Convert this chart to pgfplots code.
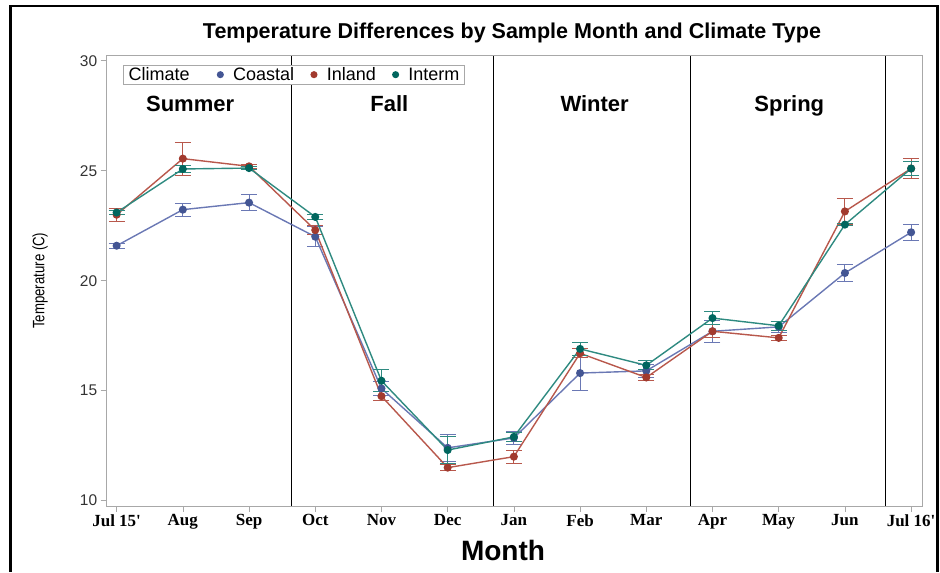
\documentclass[border=0pt]{standalone}
\usepackage{pgfplots}
\pgfplotsset{compat=1.18}
\usepackage{fontspec}
\setmainfont{Liberation Sans}
\newfontfamily\tnr{Liberation Serif}
\definecolor{cCoast}{HTML}{445694}
\definecolor{cInland}{HTML}{A23A2E}
\definecolor{cInterm}{HTML}{01665E}
\definecolor{lCoast}{HTML}{6A78B4}
\definecolor{lInland}{HTML}{B8584C}
\definecolor{lInterm}{HTML}{2E8A80}
\definecolor{axgray}{HTML}{A8A8A8}
\begin{document}
\begin{tikzpicture}
\path (-106.7pt,-65.3pt) rectangle (833.3pt,505.7pt);
\draw[line width=2.6pt] (-96pt,-66pt) -- (-96pt,499.5pt) -- (830.5pt,499.5pt) -- (830.5pt,-66pt);
\begin{axis}[
  at={(0pt,0pt)}, anchor=south west,
  scale only axis, width=815pt, height=450pt,
  xmin=-0.15, xmax=12.16, ymin=9.77, ymax=30.23,
  axis line style={axgray},
  tick align=outside, tick style={axgray, line width=0.6pt}, major tick length=6pt,
  xtick={0,...,12},
  xticklabels={Jul 15',Aug,Sep,Oct,Nov,Dec,Jan,Feb,Mar,Apr,May,Jun,Jul 16'},
  xticklabel style={font=\tnr\bfseries\fontsize{17}{19}\selectfont, text=black, yshift=1pt},
  ytick={10,15,20,25,30},
  yticklabel style={font=\fontsize{15.5}{17}\selectfont, text=black!80},
  /pgf/number format/assume math mode=true,
  xtick pos=bottom, ytick pos=left,
  clip=false,
  legend columns=4,
  legend style={at={(0.0204,0.98)}, anchor=north west, draw=axgray, font=\fontsize{18}{19}\selectfont,
    inner xsep=3pt, inner ysep=0.5pt, row sep=0pt},
  legend cell align=left,
  legend image code/.code={\draw[#1, mark size=2.8pt] plot coordinates {(0.25cm,0cm)};},
]
\addlegendimage{empty legend}
\addlegendentry{Climate\hspace{26pt}\mbox{}}

\addplot[forget plot, black, line width=0.9pt] coordinates {(2.634,9.77) (2.634,30.23)};
\addplot[forget plot, black, line width=0.9pt] coordinates {(5.687,9.77) (5.687,30.23)};
\addplot[forget plot, black, line width=0.9pt] coordinates {(8.664,9.77) (8.664,30.23)};
\addplot[forget plot, black, line width=0.9pt] coordinates {(11.61,9.77) (11.61,30.23)};

\addplot[lCoast, line width=1.4pt, mark=*, mark size=3.3pt, mark options={cCoast, fill=cCoast},
  error bars/.cd, y dir=both, y explicit, error bar style={lCoast, line width=1pt},
  error mark options={rotate=90, mark size=8pt, line width=1pt, lCoast}]
coordinates {
(0,21.59) +- (0,0.12)
(1,23.23) +- (0,0.3)
(2,23.55) +- (0,0.35)
(3,22.0) +- (0,0.45)
(4,15.1) +- (0,0.3)
(5,12.4) +- (0,0.6)
(6,12.85) +- (0,0.3)
(7,15.8) +- (0,0.8)
(8,15.9) +- (0,0.3)
(9,17.7) +- (0,0.5)
(10,17.9) +- (0,0.25)
(11,20.35) +- (0,0.4)
(12,22.2) +- (0,0.35)
};
\addlegendentry{\mbox{}\hspace{8pt}Coastal\hspace{15pt}\mbox{}}

\addplot[lInland, line width=1.4pt, mark=*, mark size=3.3pt, mark options={cInland, fill=cInland},
  error bars/.cd, y dir=both, y explicit, error bar style={lInland, line width=1pt},
  error mark options={rotate=90, mark size=8pt, line width=1pt, lInland}]
coordinates {
(0,23.0) +- (0,0.3)
(1,25.55) +- (0,0.75)
(2,25.2) +- (0,0.1)
(3,22.3) +- (0,0.2)
(4,14.75) +- (0,0.2)
(5,11.5) +- (0,0.15)
(6,12.0) +- (0,0.3)
(7,16.7) +- (0,0.2)
(8,15.6) +- (0,0.15)
(9,17.7) +- (0,0.3)
(10,17.4) +- (0,0.1)
(11,23.15) +- (0,0.6)
(12,25.1) +- (0,0.45)
};
\addlegendentry{\mbox{}\hspace{8pt}Inland\hspace{15pt}\mbox{}}

\addplot[lInterm, line width=1.4pt, mark=*, mark size=3.3pt, mark options={cInterm, fill=cInterm},
  error bars/.cd, y dir=both, y explicit, error bar style={lInterm, line width=1pt},
  error mark options={rotate=90, mark size=8pt, line width=1pt, lInterm}]
coordinates {
(0,23.1) +- (0,0.1)
(1,25.08) +- (0,0.15)
(2,25.12) +- (0,0.05)
(3,22.9) +- (0,0.1)
(4,15.45) +- (0,0.5)
(5,12.3) +- (0,0.6)
(6,12.9) +- (0,0.2)
(7,16.9) +- (0,0.3)
(8,16.15) +- (0,0.2)
(9,18.3) +- (0,0.3)
(10,17.95) +- (0,0.2)
(11,22.55) +- (0,0.05)
(12,25.1) +- (0,0.3)
};
\addlegendentry{\mbox{}\hspace{8pt}Interm}

\node[anchor=base, font=\bfseries\fontsize{22}{26}\selectfont] at (axis cs:1.11,27.68) {Summer};
\node[anchor=base, font=\bfseries\fontsize{22}{26}\selectfont] at (axis cs:4.12,27.68) {Fall};
\node[anchor=base, font=\bfseries\fontsize{22}{26}\selectfont] at (axis cs:7.22,27.68) {Winter};
\node[anchor=base, font=\bfseries\fontsize{22}{26}\selectfont] at (axis cs:10.16,27.68) {Spring};
\end{axis}
\node[font=\bfseries\fontsize{21.5}{25}\selectfont] at (405.3pt,472.7pt) {Temperature Differences by Sample Month and Climate Type};
\node[font=\bfseries\fontsize{28}{32}\selectfont] at (396.3pt,-44.3pt) {Month};
\node[font=\fontsize{16.5}{19}\selectfont, rotate=90, xscale=0.8] at (-66.7pt,225pt) {Temperature (C)};
\end{tikzpicture}
\end{document}
